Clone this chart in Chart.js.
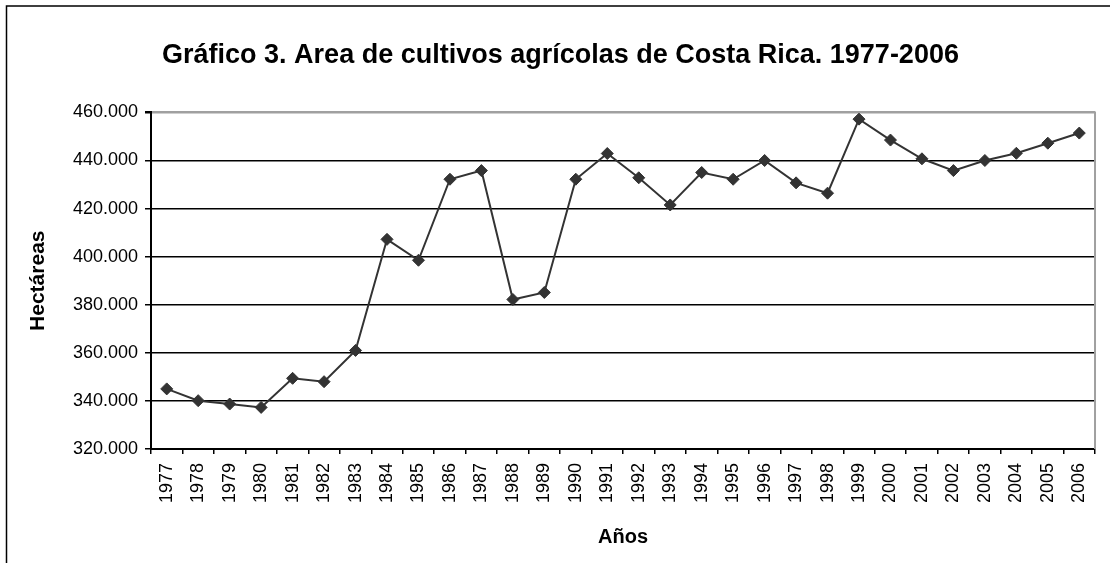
<!DOCTYPE html>
<html>
<head>
<meta charset="utf-8">
<script src="https://cdn.jsdelivr.net/npm/chart.js@4.4.1/dist/chart.umd.min.js"></script>
<style>
    html, body { margin: 0; padding: 0; background: #fff; }
    #wrap { width: 1110px; height: 563px; position: relative; }
</style>
</head>
<body>
<div id="wrap"><canvas id="chart-area"></canvas></div>
<script>
// Gráfico 3 — área de cultivos agrícolas, Costa Rica 1977-2006

const years = ['1977', '1978', '1979', '1980', '1981', '1982', '1983', '1984', '1985', '1986',
    '1987', '1988', '1989', '1990', '1991', '1992', '1993', '1994', '1995', '1996',
    '1997', '1998', '1999', '2000', '2001', '2002', '2003', '2004', '2005', '2006'];

const hectareas = [345000, 340100, 338700, 337300, 349400, 348000, 361000, 407200, 398500, 432200,
    435800, 382200, 385100, 432200, 442900, 432800, 421500, 435000, 432200, 440000,
    430700, 426400, 457200, 448500, 440700, 435800, 440000, 443000, 447200, 451400];

const yMin = 320000;
const yMax = 460000;
const yStep = 20000;

function formatMiles(v) {
    return String(v).replace(/\B(?=(\d{3})+(?!\d))/g, '.');
}

// outer frame + grey right edge of the plot
const framePlugin = {
    id: 'frame',
    beforeDraw(chart) {
        const ctx = chart.ctx;
        ctx.save();
        ctx.fillStyle = '#fff';
        ctx.fillRect(0, 0, chart.width, chart.height);
        ctx.strokeStyle = '#000';
        ctx.lineWidth = 1.5;
        ctx.beginPath();
        ctx.moveTo(6.5, chart.height + 2);
        ctx.lineTo(6.5, 6);
        ctx.lineTo(chart.width + 2, 6);
        ctx.stroke();
        ctx.restore();
    },
    afterDatasetsDraw(chart) {
        const { ctx, chartArea } = chart;
        ctx.save();
        ctx.strokeStyle = '#a0a0a0';
        ctx.lineWidth = 2;
        ctx.beginPath();
        ctx.moveTo(chartArea.right, chartArea.top - 1);
        ctx.lineTo(chartArea.right, chartArea.bottom);
        ctx.stroke();
        ctx.restore();
    }
};

const ctx = document.getElementById('chart-area').getContext('2d');

new Chart(ctx, {
    type: 'line',
    data: {
        labels: years,
        datasets: [{
            label: 'Hectáreas',
            data: hectareas,
            borderColor: '#333333',
            borderWidth: 2,
            pointStyle: 'rectRot',
            pointRadius: 6,
            pointBackgroundColor: '#333333',
            pointBorderColor: '#333333',
            pointBorderWidth: 1,
            tension: 0,
            clip: false
        }]
    },
    options: {
        responsive: true,
        maintainAspectRatio: false,
        animation: false,
        layout: {
            padding: { top: 0, left: 18, right: 7, bottom: 0 }
        },
        plugins: {
            legend: { display: false },
            tooltip: { enabled: false },
            title: {
                display: true,
                text: 'Gráfico 3. Area de cultivos agrícolas de Costa Rica. 1977-2006',
                color: '#000',
                font: { family: 'Liberation Sans', size: 27, weight: 'bold' },
                padding: { top: 39, bottom: 41 }
            }
        },
        scales: {
            x: {
                type: 'category',
                offset: true,
                border: { color: '#000', width: 2 },
                grid: {
                    offset: true,
                    drawOnChartArea: false,
                    drawTicks: true,
                    tickLength: 5,
                    color: '#000',
                    lineWidth: 1.5
                },
                ticks: {
                    color: '#000',
                    font: { family: 'Liberation Sans', size: 18 },
                    minRotation: 90,
                    maxRotation: 90,
                    autoSkip: false,
                    padding: 9
                },
                title: {
                    display: true,
                    text: 'Años',
                    color: '#000',
                    font: { family: 'Liberation Sans', size: 20, weight: 'bold' },
                    padding: { top: 4, bottom: 14 }
                },
                afterFit: (scale) => { scale.height = 114; }
            },
            y: {
                min: yMin,
                max: yMax,
                border: { color: '#000', width: 2 },
                grid: {
                    color: (c) => (c.tick && c.tick.value === yMax ? '#a0a0a0' : '#000'),
                    tickColor: '#000',
                    lineWidth: (c) => (c.tick && c.tick.value === yMax ? 2.5 : 1.5),
                    tickLength: 6
                },
                ticks: {
                    stepSize: yStep,
                    color: '#000',
                    font: { family: 'Liberation Sans', size: 18 },
                    padding: 7,
                    callback: (v) => formatMiles(v)
                },
                title: {
                    display: true,
                    text: 'Hectáreas',
                    color: '#000',
                    font: { family: 'Liberation Sans', size: 21, weight: 'bold' },
                    padding: { top: 8, bottom: 4 }
                },
                afterFit: (scale) => { scale.width = 151 - 18; }
            }
        }
    },
    plugins: [framePlugin]
});
</script>
</body>
</html>
